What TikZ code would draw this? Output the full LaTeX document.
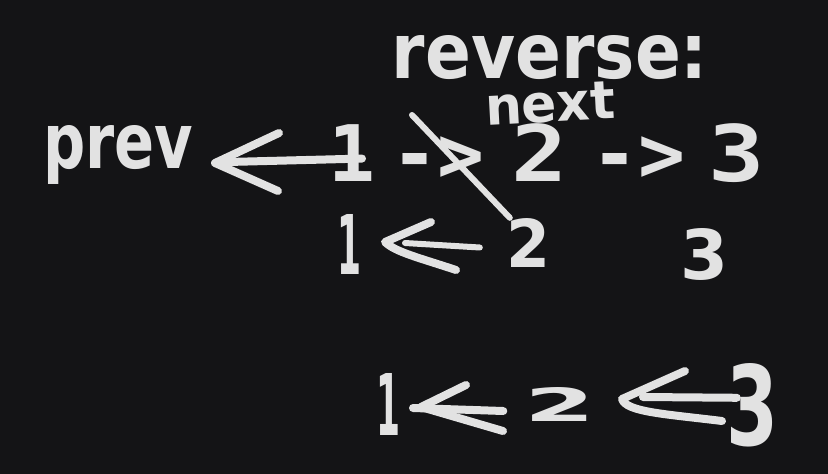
\documentclass[tikz,border=0pt]{standalone}
\usepackage{fontspec}
\usepackage{graphicx}
\usetikzlibrary{calc}
\newfontfamily\typedfont{DejaVu Sans Mono}
\newfontfamily\titlefont{DejaVu Sans}
\newfontfamily\handfont{DejaVu Sans}
\definecolor{bg}{HTML}{141416}
\definecolor{ink}{HTML}{E2E2E2}
\newcommand{\hw}[3]{\resizebox{#1pt}{#2pt}{\handfont\bfseries #3}}
\newcommand{\wide}[1]{\scalebox{1.2}[1]{#1}}
\begin{document}
\begin{tikzpicture}[x=1pt,y=-1pt,
  typed/.style={inner sep=0pt, anchor=base, text=ink, font=\typedfont\bfseries\fontsize{78}{80}\selectfont},
  hand/.style={inner sep=0pt, anchor=base, text=ink},
  stroke/.style={draw=ink, line width=8pt, line cap=round, line join=round},
  thin stroke/.style={stroke, line width=6pt}]
\fill[bg] (0,0) rectangle (828,474);
\useasboundingbox (0,0) rectangle (828,474);

% typed text
\node[hand] (title) at (550,78) {\resizebox{316pt}{43pt}{\titlefont\bfseries reverse:}};
\node[typed] (t1) at (352,181) {1};
\node[typed] (ta1) at (438,181) {->};
\node[typed] (t2) at (540,181) {\wide{2}};
\node[typed] (ta2) at (638,181) {->};
\node[typed] (t3) at (737,181) {\wide{3}};

% handwritten words
\node[hand] (prev) at (118,168) {\hw{150}{43}{prev}};
\node[hand, rotate=3] (next) at (551,122) {\hw{130}{37}{next}};

% row 2
\node[hand] (h21) at (349,274) {\hw{24}{60}{1}};
\node[hand] (h22) at (528,267) {\hw{44}{49}{2}};
\node[hand] (h23) at (704,279) {\hw{48}{51}{3}};

% row 3
\node[hand] (h31) at (388,435) {\hw{24}{62}{1}};
\node[hand] (h32) at (560,421) {\hw{71}{34}{2}};
\node[hand] (h33) at (752,445) {\hw{52}{82}{3}};

% arrow 1 -> prev
\coordinate (tipA) at (215,163);
\draw[stroke] ($(t1.center)+(10,6)$) -- (228,162);
\draw[stroke] (279,133) -- (tipA) -- (278,191);

% strike-through to row-2 "2"
\coordinate (strikeStart) at (412,115);
\draw[thin stroke] (strikeStart) -- ($(h22.north west)+(4,0)$);

% row 2 arrow 2 -> 1
\coordinate (tipB) at (385,242);
\draw[thin stroke] ($(h22.west)+(-26,5)$) -- (405,243);
\draw[stroke] (431,222) -- (tipB) .. controls (395,252) and (420,258) .. (456,270);

% row 3 arrow 2 -> 1
\coordinate (tipC) at (421,407);
\draw[stroke] ($(h32.west)+(-21,7)$) -- (413,408);
\draw[stroke] (466,385) -- (tipC) -- (503,431);

% row 3 arrow 3 -> 2
\coordinate (tipD) at (622,399);
\draw[stroke] ($(h33.west)+(11,-7)$) -- (643,397);
\draw[stroke] (685,371) -- (tipD) .. controls (626,412) and (665,414) .. (722,421);
\end{tikzpicture}
\end{document}
